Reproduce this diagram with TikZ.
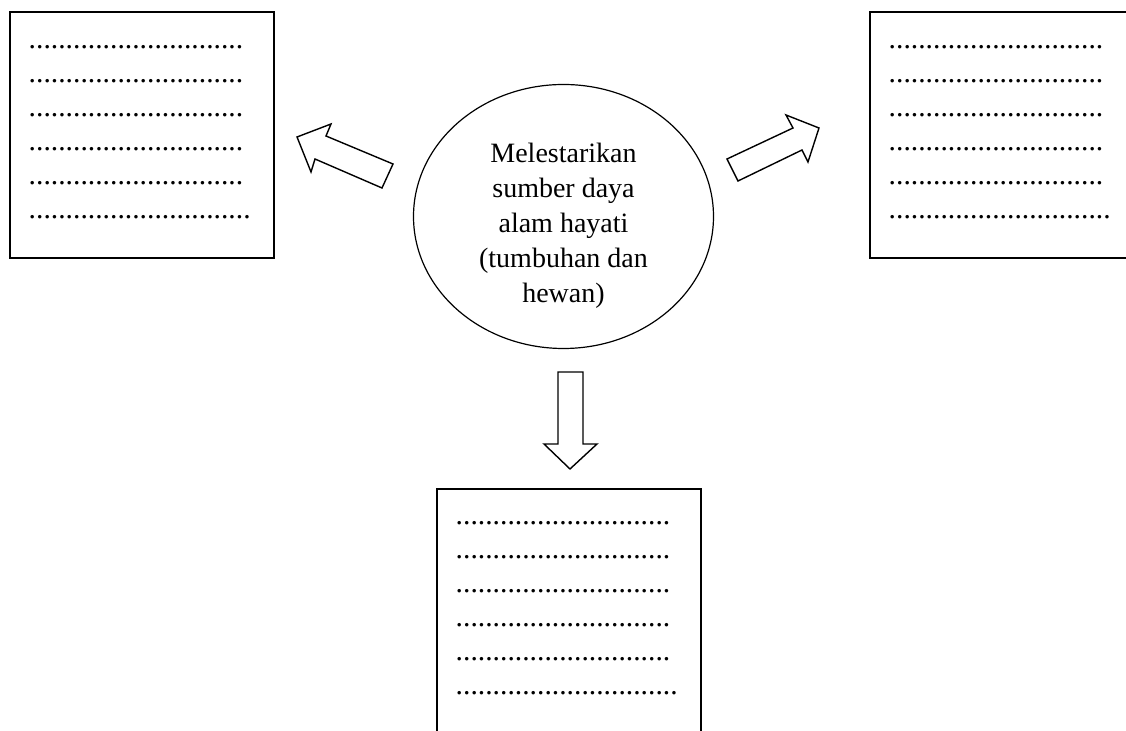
\documentclass[tikz,border=0pt]{standalone}
\usepackage{fontspec}
\setmainfont{Liberation Serif}
\usetikzlibrary{shapes.geometric,positioning}
\newcommand{\barisTitik}{.............................}
\tikzset{
  kotak/.style={draw, line width=0.8pt, minimum width=132pt, minimum height=123pt, inner sep=0pt, anchor=north west},
  isian/.style={align=left, inner sep=0pt, anchor=base west, font=\fontsize{14.8}{17}\selectfont},
  panah/.style={draw, line width=0.7pt, line join=miter},
}

\begin{document}
\begin{tikzpicture}[x=0.5pt, y=-0.5pt]
        \useasboundingbox (0,0) rectangle (1126,731);
        % Lingkaran tengah
        \node[draw, ellipse, line width=0.6pt, minimum width=150pt, minimum height=132pt, inner sep=0pt] (pusat) at (563.5,216.5) {};
        \node[align=center, anchor=base, inner sep=0pt, font=\fontsize{14}{17.5}\selectfont] (judul) at (563.5,303) {Melestarikan\\sumber daya\\alam hayati\\(tumbuhan dan\\hewan)};
        % Kotak kiri
        \node[kotak] (kotakkiri) at (9,11) {};
        \node[isian] (isikiri) at (28.3,218.5) {\barisTitik\\\barisTitik\\\barisTitik\\\barisTitik\\\barisTitik\\\barisTitik.};
        % Kotak kanan
        \node[kotak] (kotakkanan) at (869,11) {};
        \node[isian] (isikanan) at (888.3,218.5) {\barisTitik\\\barisTitik\\\barisTitik\\\barisTitik\\\barisTitik\\\barisTitik.};
        % Kotak bawah
        \node[kotak] (kotakbawah) at (436,488) {};
        \node[isian] (isibawah) at (455.3,694.5) {\barisTitik\\\barisTitik\\\barisTitik\\\barisTitik\\\barisTitik\\\barisTitik.};
        % Panah
        \draw[panah] (297,137) -- (331,124) -- (326,136) -- (393,164) -- (382,188) -- (315,159) -- (311,172) -- cycle;
        \draw[panah] (727,159) -- (793,128) -- (786,115) -- (819,128) -- (808,162) -- (802,150) -- (738,181) -- cycle;
        \draw[panah] (558,372) -- (583,372) -- (583,444) -- (597,444) -- (570,469) -- (544,444) -- (558,444) -- cycle;
\end{tikzpicture}
\end{document}
